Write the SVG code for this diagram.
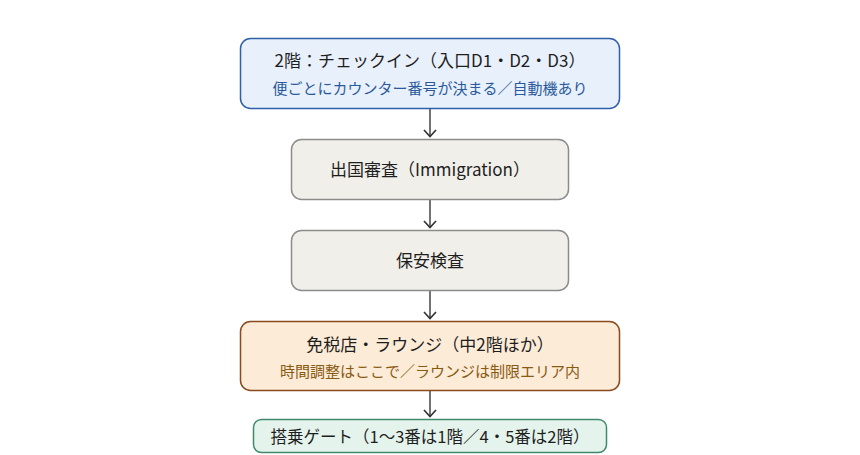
<svg xmlns="http://www.w3.org/2000/svg" width="860" height="455" viewBox="0 0 860 455">
<style>
text{font-family:"Noto Sans CJK JP","Noto Sans",sans-serif;text-anchor:middle;dominant-baseline:central}
.t{font-size:17px;fill:#1e1e1e}
.g{font-size:16.5px;fill:#1e1e1e}
.s{font-size:15px}
.c{stroke:#444;stroke-width:1.5;fill:none}
</style>
<defs>
<marker id="ah" viewBox="0 0 12 14" refX="11" refY="7" markerWidth="12" markerHeight="14" markerUnits="userSpaceOnUse" orient="auto">
<path d="M4,1 L10.5,7 L4,13" fill="none" stroke="#333" stroke-width="1.7"/>
</marker>
</defs>
<rect width="860" height="455" fill="#fff"/>
<g id="connectors">
<line class="c" x1="430" y1="108" x2="430" y2="137" marker-end="url(#ah)"/>
<line class="c" x1="430" y1="199" x2="430" y2="228" marker-end="url(#ah)"/>
<line class="c" x1="430" y1="290" x2="430" y2="319" marker-end="url(#ah)"/>
<line class="c" x1="430" y1="390" x2="430" y2="417" marker-end="url(#ah)"/>
</g>
<g id="checkin">
<rect x="240.5" y="38.5" width="379" height="70" rx="10" fill="#e8f0fb" stroke="#2f5fa8" stroke-width="1.5"/>
<text class="t" x="430" y="59">2階：チェックイン（入口D1・D2・D3）</text>
<text class="s" x="430" y="87" fill="#2a5a9c">便ごとにカウンター番号が決まる／自動機あり</text>
</g>
<g id="immigration">
<rect x="291.5" y="139.5" width="277" height="60" rx="10" fill="#f1efe9" stroke="#8c8c8c" stroke-width="1.5"/>
<text class="t" x="430" y="168">出国審査（Immigration）</text>
</g>
<g id="security">
<rect x="291.5" y="230.5" width="277" height="60" rx="10" fill="#f1efe9" stroke="#8c8c8c" stroke-width="1.5"/>
<text class="t" x="430" y="259">保安検査</text>
</g>
<g id="dutyfree">
<rect x="240.5" y="321.5" width="379" height="69" rx="10" fill="#fcebd7" stroke="#8b4a1e" stroke-width="1.5"/>
<text class="t" x="430" y="343">免税店・ラウンジ（中2階ほか）</text>
<text class="s" x="430" y="370" fill="#8a5a12">時間調整はここで／ラウンジは制限エリア内</text>
</g>
<g id="gate">
<rect x="253.5" y="419.5" width="353" height="33" rx="8" fill="#e4f3ec" stroke="#3f8a6c" stroke-width="1.5"/>
<text class="g" x="430" y="436">搭乗ゲート（1〜3番は1階／4・5番は2階）</text>
</g>
</svg>
